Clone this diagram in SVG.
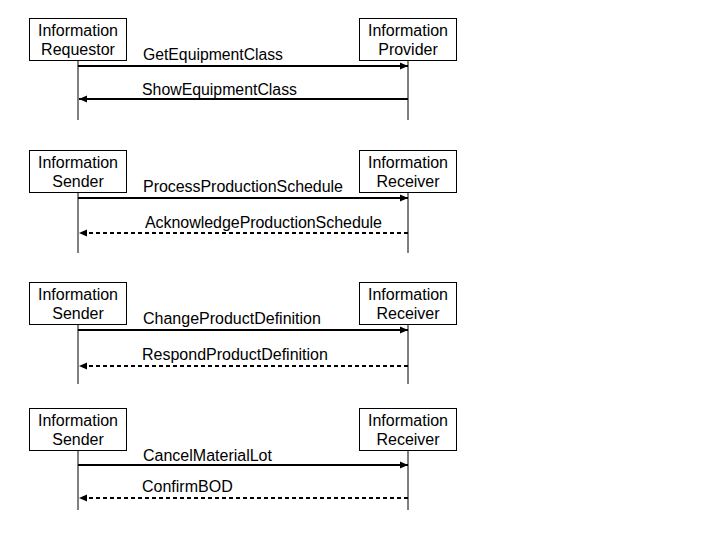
<svg xmlns="http://www.w3.org/2000/svg" width="720" height="540" viewBox="0 0 720 540">
<style>
.box{fill:#fff;stroke:#000;stroke-width:1}
.t{font-family:"Liberation Sans",Arial,sans-serif;font-size:16px;fill:#000}
.bt{text-anchor:middle}
.life{stroke:#000;stroke-width:1;fill:none}
.msg{stroke:#000;stroke-width:2;fill:none}
.dash{stroke-dasharray:4 3}
</style>
<defs>
<marker id="ah" viewBox="0 0 8 8" refX="8" refY="4" markerWidth="8" markerHeight="8" markerUnits="userSpaceOnUse" orient="auto">
<path d="M0,0.5 L8,4 L0,7.5 Z" fill="#000"/>
</marker>
</defs>
<rect width="720" height="540" fill="#fff"/>
<g id="connectors">
<line class="life" x1="78" y1="60" x2="78" y2="120"/>
<line class="life" x1="408" y1="60" x2="408" y2="120"/>
<line class="msg" x1="78" y1="66" x2="408" y2="66" marker-end="url(#ah)"/>
<line class="msg" x1="408" y1="99" x2="79" y2="99" marker-end="url(#ah)"/>
<line class="life" x1="78" y1="192" x2="78" y2="253"/>
<line class="life" x1="408" y1="192" x2="408" y2="253"/>
<line class="msg" x1="78" y1="198" x2="408" y2="198" marker-end="url(#ah)"/>
<line class="msg dash" x1="408" y1="233" x2="79" y2="233" marker-end="url(#ah)"/>
<line class="life" x1="78" y1="324" x2="78" y2="384"/>
<line class="life" x1="408" y1="324" x2="408" y2="384"/>
<line class="msg" x1="78" y1="330" x2="408" y2="330" marker-end="url(#ah)"/>
<line class="msg dash" x1="408" y1="366" x2="79" y2="366" marker-end="url(#ah)"/>
<line class="life" x1="78" y1="450" x2="78" y2="510"/>
<line class="life" x1="408" y1="450" x2="408" y2="510"/>
<line class="msg" x1="78" y1="465" x2="408" y2="465" marker-end="url(#ah)"/>
<line class="msg dash" x1="408" y1="498" x2="79" y2="498" marker-end="url(#ah)"/>
<text class="t" x="143" y="60" textLength="140" lengthAdjust="spacingAndGlyphs">GetEquipmentClass</text>
<text class="t" x="142" y="95" textLength="155" lengthAdjust="spacingAndGlyphs">ShowEquipmentClass</text>
<text class="t" x="143" y="192" textLength="200" lengthAdjust="spacing">ProcessProductionSchedule</text>
<text class="t" x="145" y="228" textLength="237" lengthAdjust="spacing">AcknowledgeProductionSchedule</text>
<text class="t" x="143" y="324">ChangeProductDefinition</text>
<text class="t" x="142" y="360">RespondProductDefinition</text>
<text class="t" x="143" y="461">CancelMaterialLot</text>
<text class="t" x="142" y="492">ConfirmBOD</text>
</g>
<g id="requestor">
<rect class="box" x="29.5" y="18.5" width="97" height="42"/>
<text class="t bt" x="78" y="36">Information</text>
<text class="t bt" x="78" y="55">Requestor</text>
</g>
<g id="provider">
<rect class="box" x="359.5" y="18.5" width="97" height="42"/>
<text class="t bt" x="408" y="36">Information</text>
<text class="t bt" x="408" y="55">Provider</text>
</g>
<g id="sender1">
<rect class="box" x="29.5" y="150.5" width="97" height="42"/>
<text class="t bt" x="78" y="168">Information</text>
<text class="t bt" x="78" y="187">Sender</text>
</g>
<g id="receiver1">
<rect class="box" x="359.5" y="150.5" width="97" height="42"/>
<text class="t bt" x="408" y="168">Information</text>
<text class="t bt" x="408" y="187">Receiver</text>
</g>
<g id="sender2">
<rect class="box" x="29.5" y="282.5" width="97" height="42"/>
<text class="t bt" x="78" y="300">Information</text>
<text class="t bt" x="78" y="319">Sender</text>
</g>
<g id="receiver2">
<rect class="box" x="359.5" y="282.5" width="97" height="42"/>
<text class="t bt" x="408" y="300">Information</text>
<text class="t bt" x="408" y="319">Receiver</text>
</g>
<g id="sender3">
<rect class="box" x="29.5" y="408.5" width="97" height="42"/>
<text class="t bt" x="78" y="426">Information</text>
<text class="t bt" x="78" y="445">Sender</text>
</g>
<g id="receiver3">
<rect class="box" x="359.5" y="408.5" width="97" height="42"/>
<text class="t bt" x="408" y="426">Information</text>
<text class="t bt" x="408" y="445">Receiver</text>
</g>
</svg>
